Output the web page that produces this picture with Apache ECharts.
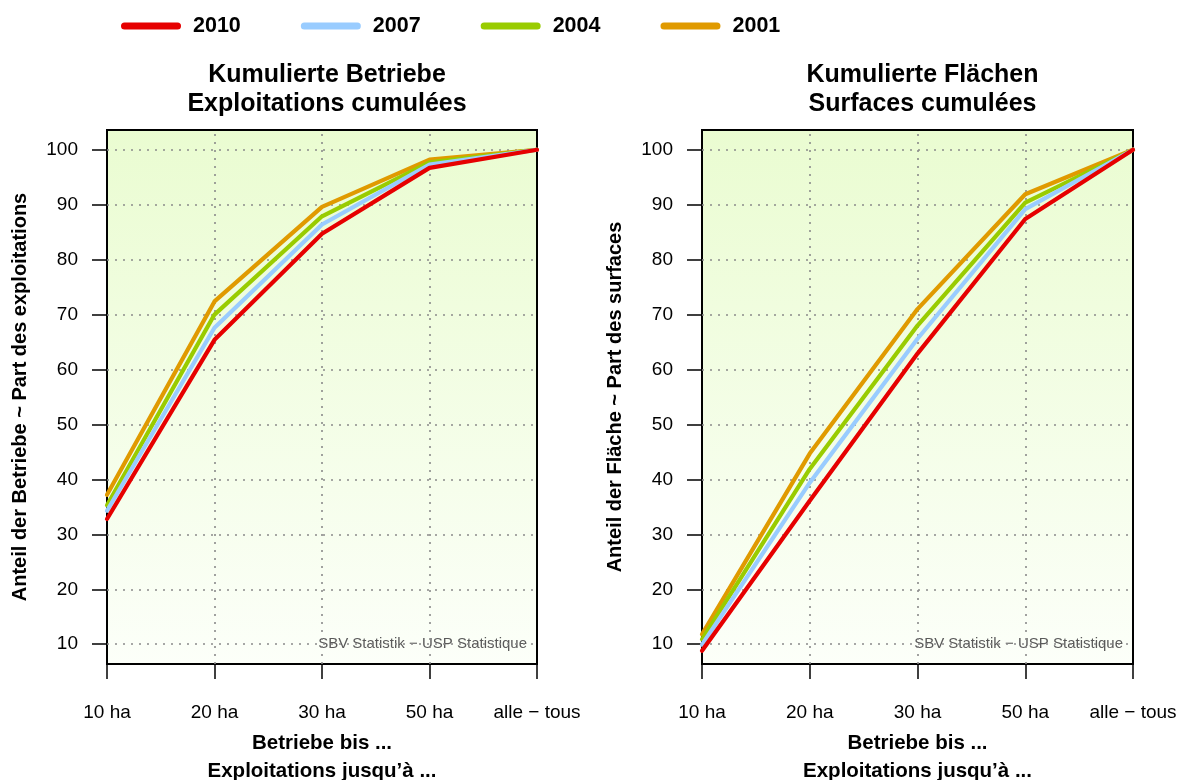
<!DOCTYPE html>
<html>
<head>
<meta charset="utf-8">
<script src="https://cdn.jsdelivr.net/npm/echarts@6/dist/echarts.min.js"></script>
<style>
html,body{margin:0;padding:0;background:#fff;}
#chart{width:1180px;height:780px;}
</style>
</head>
<body>
<div id="chart"></div>
<script>
// ---- data ----
const categories = ['10 ha', '20 ha', '30 ha', '50 ha', 'alle − tous'];
const years = ['2010', '2007', '2004', '2001'];
const yearColors = ['#e60000', '#99ccff', '#99cc00', '#e09a00'];
const yTicks = [10, 20, 30, 40, 50, 60, 70, 80, 90, 100];
const vGridCats = ['20 ha', '30 ha', '50 ha'];

const betriebe2010 = [32.8, 65.4, 84.7, 96.7, 100];
const betriebe2007 = [34.3, 67.6, 86.4, 97.3, 100];
const betriebe2004 = [35.3, 70.0, 87.9, 97.7, 100];
const betriebe2001 = [37.2, 72.4, 89.6, 98.2, 100];

const flaechen2010 = [8.8, 36.1, 62.9, 87.4, 100];
const flaechen2007 = [9.9, 39.4, 65.6, 89.2, 100];
const flaechen2004 = [10.9, 41.9, 68.0, 90.4, 100];
const flaechen2001 = [11.8, 44.7, 71.0, 91.9, 100];

const titles = ['Kumulierte Betriebe\nExploitations cumulées', 'Kumulierte Flächen\nSurfaces cumulées'];
const yNames = ['Anteil der Betriebe ~ Part des exploitations', 'Anteil der Fläche ~ Part des surfaces'];
const xName = 'Betriebe bis ...\nExploitations jusqu’à ...';
const sourceText = 'SBV Statistik − USP Statistique';

const panels = [
  { '2010': betriebe2010, '2007': betriebe2007, '2004': betriebe2004, '2001': betriebe2001 },
  { '2010': flaechen2010, '2007': flaechen2007, '2004': flaechen2004, '2001': flaechen2001 }
];

// ---- layout ----
const FONT = '"Liberation Sans", Arial, Helvetica, sans-serif';
const gridPos = [
  { left: 107, top: 130, width: 430, height: 534 },
  { left: 702, top: 130, width: 431, height: 534 }
];
const bg = {
  type: 'linear', x: 0, y: 0, x2: 0, y2: 1,
  colorStops: [{ offset: 0, color: '#eafcd1' }, { offset: 1, color: '#fcfff9' }]
};

const grids = gridPos.map(g => Object.assign({
  show: true, backgroundColor: bg, borderColor: '#000', borderWidth: 2,
  containLabel: false, outerBoundsMode: 'none'
}, g));

const xAxes = gridPos.map((g, i) => ({
  type: 'category', gridIndex: i, data: categories, boundaryGap: false,
  axisLine: { show: false },
  axisTick: { show: true, length: 15, interval: 0, lineStyle: { color: '#000', width: 1.5 } },
  axisLabel: { interval: 0, margin: 39, color: '#000', fontSize: 19, fontFamily: FONT, hideOverlap: false },
  splitLine: { show: false },
  name: xName, nameLocation: 'middle', nameGap: 65,
  nameTextStyle: { color: '#000', fontSize: 20.5, fontWeight: 'bold', fontFamily: FONT, lineHeight: 28 }
}));

const yAxes = gridPos.map((g, i) => ({
  type: 'value', gridIndex: i, min: 6.4, max: 103.6,
  axisLine: { show: false },
  axisTick: { show: true, length: 15, customValues: yTicks, lineStyle: { color: '#000', width: 1.5 } },
  axisLabel: { customValues: yTicks, margin: 29, color: '#000', fontSize: 19, fontFamily: FONT },
  splitLine: { show: false },
  name: yNames[i], nameLocation: 'middle', nameGap: 77, nameRotate: 90,
  nameTextStyle: { color: '#000', fontSize: 20, fontWeight: 'bold', fontFamily: FONT }
}));

const series = [];
panels.forEach((panel, i) => {
  // dotted reference grid
  series.push({
    type: 'line', xAxisIndex: i, yAxisIndex: i, data: [], z: 1, silent: true,
    markLine: {
      silent: true, symbol: ['none', 'none'], z: 1, animation: false,
      label: { show: false },
      lineStyle: { color: '#8a8a8a', type: [2, 6], width: 1.6 },
      emphasis: { disabled: true },
      data: yTicks.map(v => ({ yAxis: v })).concat(vGridCats.map(c => ({ xAxis: c })))
    }
  });
  // draw 2001 first, 2010 last (on top)
  for (let k = years.length - 1; k >= 0; k--) {
    const y = years[k];
    series.push({
      name: y, type: 'line', xAxisIndex: i, yAxisIndex: i, z: 3,
      data: panel[y], showSymbol: false, symbol: 'none', clip: true,
      lineStyle: { color: yearColors[k], width: 4.2, cap: 'round', join: 'round' },
      itemStyle: { color: yearColors[k] },
      emphasis: { disabled: true }
    });
  }
});

const option = {
  animation: false,
  backgroundColor: '#fff',
  textStyle: { fontFamily: FONT },
  title: titles.map((t, i) => ({
    text: t, left: gridPos[i].left + gridPos[i].width / 2, top: 56, textAlign: 'center',
    textStyle: { color: '#000', fontSize: 25, fontWeight: 'bold', fontFamily: FONT, lineHeight: 29 }
  })),
  legend: {
    data: years, left: 121, top: 15, orient: 'horizontal', padding: 0,
    itemWidth: 60, itemHeight: 7, itemGap: 60,
    icon: 'path://M3.5,0 L56.5,0 A3.5,3.5 0 0 1 56.5,7 L3.5,7 A3.5,3.5 0 0 1 3.5,0 Z',
    selectedMode: false,
    textStyle: { color: '#000', fontSize: 21.5, fontWeight: 'bold', fontFamily: FONT, padding: [0, 0, 0, 7] }
  },
  grid: grids,
  xAxis: xAxes,
  yAxis: yAxes,
  series: series,
  graphic: gridPos.map(g => ({
    type: 'text', right: 1180 - (g.left + g.width - 10), top: 636, silent: true,
    style: { text: sourceText, fill: '#5a5a5a', fontSize: 15, fontFamily: FONT, textAlign: 'right' }
  }))
};

const chart = echarts.init(document.getElementById('chart'), null, { renderer: 'canvas' });
chart.setOption(option);
</script>
</body>
</html>
